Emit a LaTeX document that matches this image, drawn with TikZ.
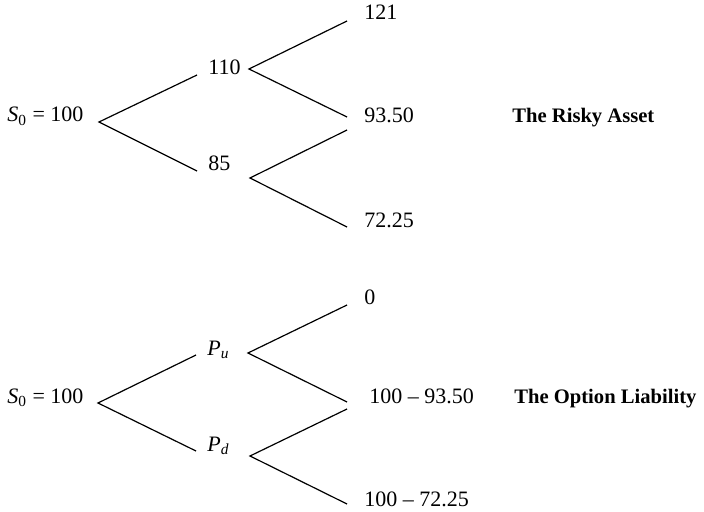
\documentclass[tikz,border=0pt]{standalone}
\usepackage{fontspec}
\setmainfont{Liberation Serif}
\usetikzlibrary{positioning}
\tikzset{
  branch/.style={line width=0.6pt,draw=black},
  val/.style={anchor=base west,inner sep=0pt,font=\fontsize{11}{13}\selectfont},
  mid/.style={val,inner xsep=5.5pt},
  heading/.style={val,font=\fontsize{10.3}{12}\selectfont\bfseries},
}
\newcommand{\sub}[2]{{\itshape #1\textsubscript{#2}}}

\begin{document}
\begin{tikzpicture}[x=0.5pt,y=-0.5pt]
  \useasboundingbox (0,0) rectangle (704,512);
  % the risky asset
  \node[val] (sa) at (7,122) {\sub{S}{\upshape 0} = 100};
  \node[mid] (up) at (197,75) {110};
  \node[mid] (dn) at (197,171) {85};
  \node[val] (uu) at (364,20) {121};
  \node[val] (ud) at (364,123) {93.50};
  \node[val] (dd) at (364,228) {72.25};
  \node[heading] (asset) at (512,123) {The Risky Asset};
  \coordinate (ra) at (99,122);
  \coordinate (fu) at (249,69);
  \coordinate (fd) at (250,178);
  \coordinate (uuend) at (347,21);
  \coordinate (udend) at (347,117);
  \coordinate (duend) at (347,130);
  \coordinate (ddend) at (347,227);
  \draw[branch] (up.base west) -- (ra) -- (dn.base west);
  \draw[branch] (uuend) -- (fu) -- (udend);
  \draw[branch] (duend) -- (fd) -- (ddend);
  % the option liability
  \node[val] (sb) at (7,403) {\sub{S}{\upshape 0} = 100};
  \node[mid] (pu) at (196,355) {\sub{P}{u}};
  \node[mid] (pd) at (196,451) {\sub{P}{d}};
  \node[val] (puu) at (364,304) {0};
  \node[val] (pud) at (369,403) {100 -- 93.50};
  \node[val] (pdd) at (364,506) {100 -- 72.25};
  \node[heading] (liab) at (514,403) {The Option Liability};
  \coordinate (rb) at (98,403);
  \coordinate (gu) at (248,353);
  \coordinate (gd) at (250,456);
  \coordinate (puuend) at (347,305);
  \coordinate (pudend) at (347,402);
  \coordinate (pduend) at (347,409);
  \coordinate (pddend) at (347,504);
  \draw[branch] (pu.base west) -- (rb) -- (pd.base west);
  \draw[branch] (puuend) -- (gu) -- (pudend);
  \draw[branch] (pduend) -- (gd) -- (pddend);
\end{tikzpicture}
\end{document}
